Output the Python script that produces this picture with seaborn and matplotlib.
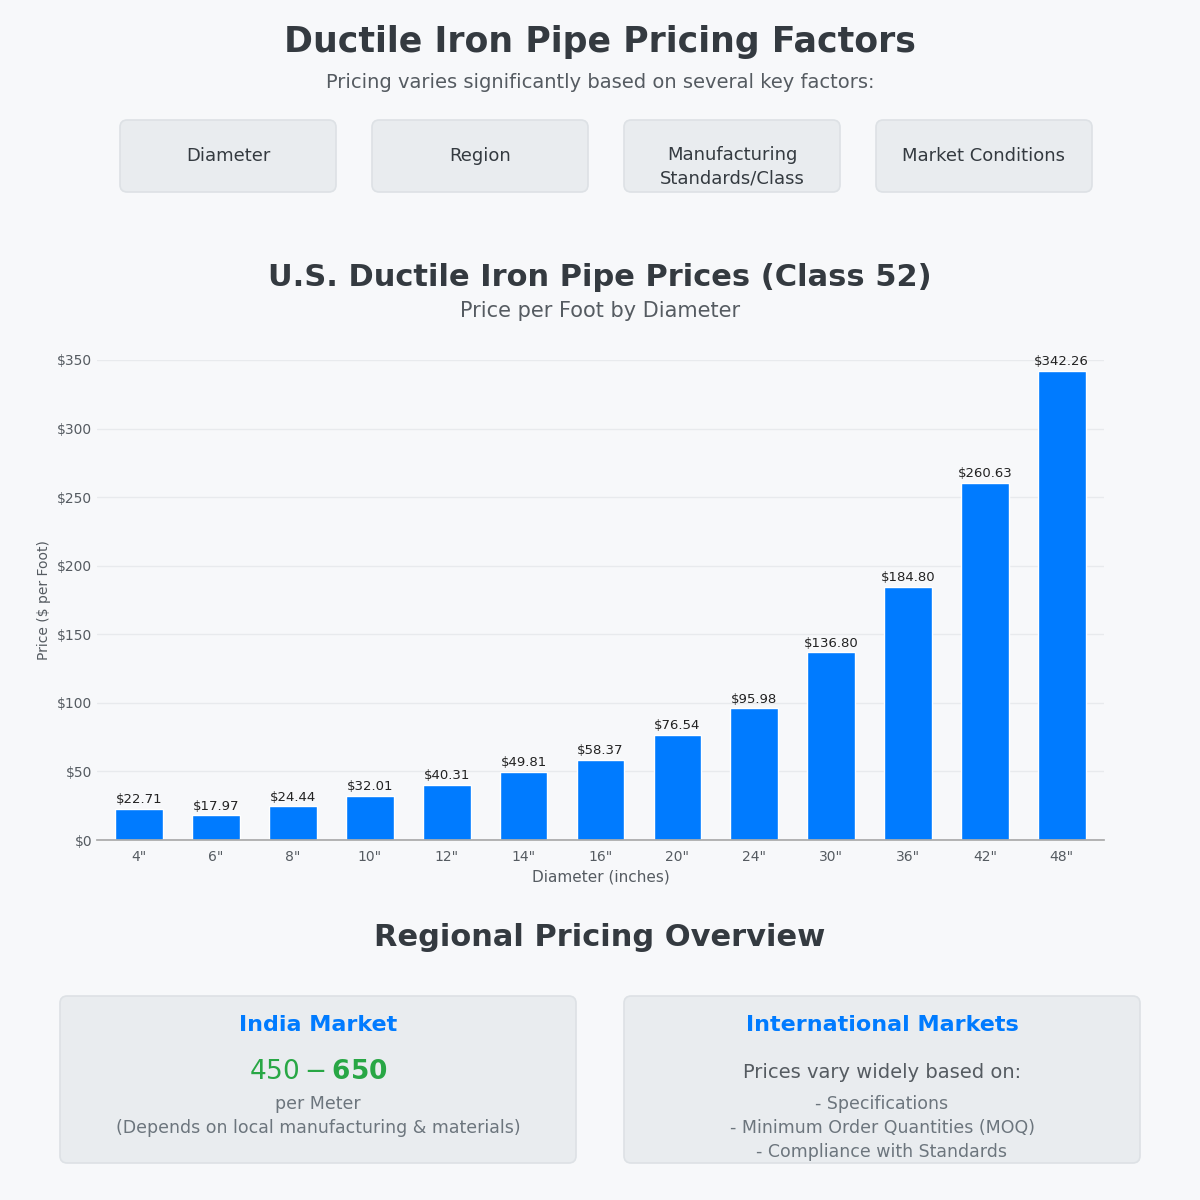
import matplotlib
matplotlib.use("Agg")
import matplotlib.pyplot as plt
from matplotlib.patches import FancyBboxPatch
import pandas as pd
import seaborn as sns

diameters = ['4"', '6"', '8"', '10"', '12"', '14"', '16"', '20"', '24"', '30"', '36"', '42"', '48"']
prices = [22.71, 17.97, 24.44, 32.01, 40.31, 49.81, 58.37, 76.54, 95.98, 136.80, 184.80, 260.63, 342.26]
factors = ["Diameter", "Region", "Manufacturing\nStandards/Class", "Market Conditions"]
y_ticks = [0, 50, 100, 150, 200, 250, 300, 350]

BG = "#f7f8fa"
BOX = "#e9ecef"
EDGE = "#dde1e5"
DARK = "#343a40"
GREY = "#555b61"
BLUE = "#007bff"
FONT = "DejaVu Sans"

sns.set_theme(style="white", font=FONT)
fig = plt.figure(figsize=(12, 12), dpi=100, facecolor=BG)
W, H = 1200, 1200


def box(x0, y0, x1, y1):
    fig.add_artist(FancyBboxPatch((x0 / W, 1 - y1 / H), (x1 - x0) / W, (y1 - y0) / H,
                                  boxstyle="round,pad=0,rounding_size=0.006",
                                  transform=fig.transFigure, fc=BOX, ec=EDGE, lw=1.2))


def txt(x, y, s, **kw):
    fig.text(x / W, 1 - y / H, s, ha="center", va="center", **kw)


txt(600, 42, "Ductile Iron Pipe Pricing Factors", fontsize=25, weight="bold", color=DARK)
txt(600, 83, "Pricing varies significantly based on several key factors:", fontsize=14, color=GREY)
for i, f in enumerate(factors):
    x0 = 120 + i * 252
    box(x0, 120, x0 + 216, 192)
    txt(x0 + 108, 167 if "\n" in f else 156, f, fontsize=13, color=DARK, linespacing=1.4)

txt(600, 277, "U.S. Ductile Iron Pipe Prices (Class 52)", fontsize=22, weight="bold", color=DARK)
txt(600, 311, "Price per Foot by Diameter", fontsize=15, color=GREY)

ax = fig.add_axes([97 / W, 1 - 840 / H, (1104 - 97) / W, 480 / H])
ax.set_facecolor(BG)
df = pd.DataFrame({"Diameter": diameters, "Price": prices})
sns.barplot(data=df, x="Diameter", y="Price", color=BLUE, saturation=1, width=0.62, ax=ax)
for i, p in enumerate(prices):
    ax.text(i, p + 2, f"${p:.2f}", ha="center", va="bottom", fontsize=9.5, color="#222")
ax.set_ylim(0, 350)
ax.set_xlim(-0.55, len(diameters) - 0.45)
ax.set_yticks(y_ticks)
ax.set_yticklabels([f"${v}" for v in y_ticks], fontsize=10, color=GREY)
ax.tick_params(axis="x", labelsize=10, colors=GREY, length=4, color="#aaa")
ax.tick_params(axis="y", length=0)
ax.yaxis.grid(True, color="#e8eaed", lw=1)
ax.set_axisbelow(True)
for s in ["top", "right", "left"]:
    ax.spines[s].set_visible(False)
ax.spines["bottom"].set_color("#aaa")
ax.set_xlabel("Diameter (inches)", fontsize=11, color=GREY)
ax.set_ylabel("Price ($ per Foot)", fontsize=10, color=GREY)

txt(600, 938, "Regional Pricing Overview", fontsize=22, weight="bold", color=DARK)
box(60, 996, 576, 1163)
box(624, 996, 1140, 1163)
txt(318, 1025, "India Market", fontsize=16, weight="bold", color=BLUE)
txt(318, 1072, "$450 - $650", fontsize=19, weight="bold", color="#28a745")
txt(318, 1104, "per Meter", fontsize=12.5, color="#6c757d")
txt(318, 1128, "(Depends on local manufacturing & materials)", fontsize=12.5, color="#6c757d")
txt(882, 1025, "International Markets", fontsize=16, weight="bold", color=BLUE)
txt(882, 1073, "Prices vary widely based on:", fontsize=14, color=GREY)
for j, s in enumerate(["- Specifications", "- Minimum Order Quantities (MOQ)", "- Compliance with Standards"]):
    txt(882, 1104 + 24 * j, s, fontsize=12.5, color="#6c757d")

fig.savefig("out.png", dpi=100, facecolor=BG)
